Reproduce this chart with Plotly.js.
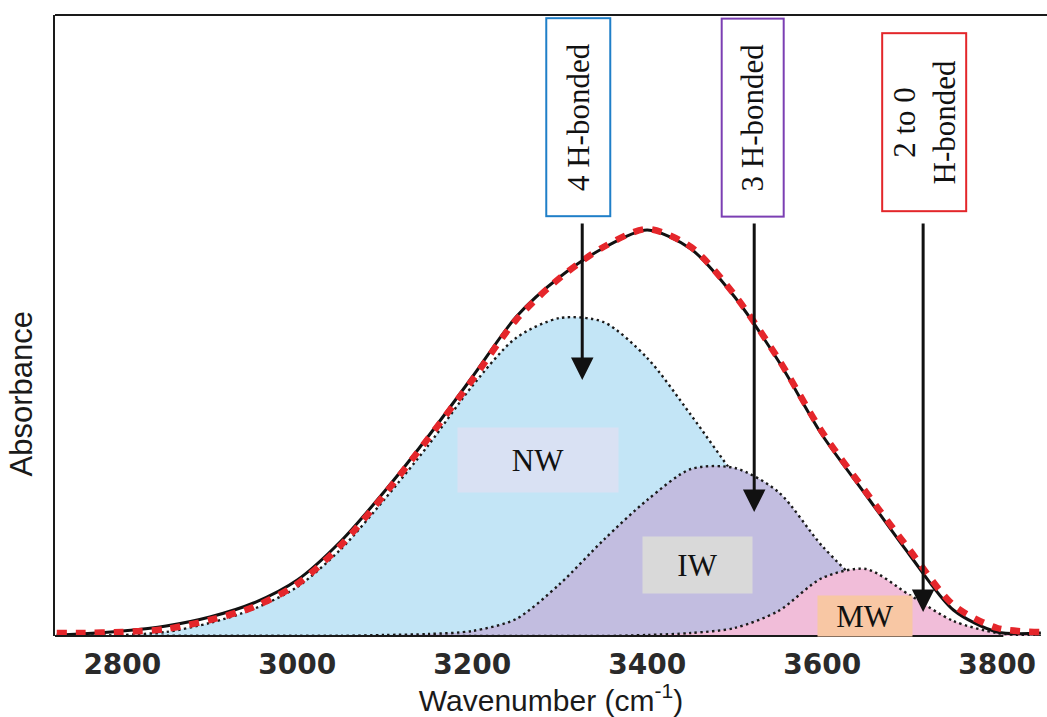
<!DOCTYPE html>
<html>
<head>
<meta charset="utf-8">
<script src="https://cdn.plot.ly/plotly-3.0.1.min.js"></script>
<style>
html,body{margin:0;padding:0;background:#fff;}
#chart{width:1047px;height:717px;}
</style>
</head>
<body>
<div id="chart"></div>
<script>
// Wavenumber grid (cm-1)
const wavenumber = [2725,2750,2800,2850,2900,2950,3000,3050,3100,3150,3200,3250,3300,3350,3400,3450,3500,3550,3600,3650,3700,3750,3800,3850];
// Measured total absorbance (black solid)
const measured = [0.001,0.002,0.005,0.010,0.019,0.033,0.056,0.095,0.145,0.200,0.259,0.319,0.359,0.388,0.406,0.387,0.339,0.275,0.201,0.141,0.081,0.026,0.004,0.003];
// Fitted sum (red dashed)
const fitted = [0.003,0.003,0.004,0.007,0.016,0.029,0.052,0.091,0.142,0.198,0.256,0.316,0.358,0.389,0.407,0.389,0.341,0.277,0.204,0.144,0.086,0.031,0.008,0.004];
// Components
const nw = [0.000,0.000,0.001,0.004,0.013,0.027,0.049,0.087,0.137,0.191,0.250,0.298,0.318,0.314,0.278,0.221,0.160,0.100,0.055,0.028,0.013,0.004,0.001,0.000];
const iw = [0.000,0.000,0.000,0.000,0.000,0.000,0.000,0.000,0.001,0.002,0.005,0.017,0.052,0.096,0.136,0.167,0.168,0.144,0.090,0.048,0.024,0.008,0.002,0.000];
const mw = [0.000,0.000,0.000,0.000,0.000,0.000,0.000,0.000,0.000,0.000,0.000,0.000,0.000,0.000,0.001,0.003,0.008,0.025,0.058,0.067,0.041,0.015,0.003,0.000];

const tickVals = [2800,3000,3200,3400,3600,3800];
const tickText = ['2800','3000','3200','3400','3600','3800'];

const compLabels = ['NW','IW','MW'];
const compLabelX = [3275.4, 3457.7, 3649.1];
const compLabelY = [0.176, 0.071, 0.020];

const bondLabels = ['4 H-bonded','3 H-bonded','2 to 0<br>H-bonded'];
const bondX = [3325.7, 3522.3, 3715.4];
const arrowTipY = [0.256, 0.124, 0.024];
const arrowTailY = 0.414;

const dotLine = {color:'#1a1a1a', width:2.4, dash:'2.4px,3.4px', shape:'spline', smoothing:0.8};

const traces = [
  {x:wavenumber, y:nw, type:'scatter', mode:'lines', fill:'tozeroy', fillcolor:'#c3e5f6', line:dotLine, hoverinfo:'skip', name:'NW'},
  {x:wavenumber, y:iw, type:'scatter', mode:'lines', fill:'tozeroy', fillcolor:'#c2bde0', line:dotLine, hoverinfo:'skip', name:'IW'},
  {x:wavenumber, y:mw, type:'scatter', mode:'lines', fill:'tozeroy', fillcolor:'#f1bdd9', line:dotLine, hoverinfo:'skip', name:'MW'},
  {x:wavenumber, y:measured, type:'scatter', mode:'lines', line:{color:'#111', width:3, shape:'spline', smoothing:0.8}, name:'Measured'},
  {x:wavenumber, y:fitted, type:'scatter', mode:'lines', line:{color:'#e5262b', width:6.5, dash:'10px,9px', shape:'spline', smoothing:0.8}, name:'Fit'}
];

const annotations = [];
const labelBg = ['#d9e1f3','#d9d9d9','#f8c7a4'];
const labelW = [160,109,94];
const labelH = [64,56,40];
compLabels.forEach((t,i)=>{
  annotations.push({xref:'x', yref:'y', x:compLabelX[i], y:compLabelY[i], xanchor:'center', yanchor:'middle', text:t, showarrow:false,
    font:{family:'Liberation Serif', size:31, color:'#111'}, bgcolor:labelBg[i], width:labelW[i], height:labelH[i], borderpad:0});
});
const boxColors = ['#1f7fc8','#7b3fb3','#e3262a'];
const boxY = [0.835, 0.835, 0.8277];
const boxW = [196, 196, 176];
const boxH = [62, 60, 82];
const boxX = [3321.7, 3521.1, 3716.6];
bondLabels.forEach((t,i)=>{
  annotations.push({xref:'x', yref:'paper', x:boxX[i], y:boxY[i], xanchor:'center', yanchor:'middle', text:t, textangle:-90, showarrow:false,
    font:{family:'Liberation Serif', size:31, color:'#111'}, bordercolor:boxColors[i], borderwidth:2, borderpad:0,
    bgcolor:'#fff', width:boxW[i], height:boxH[i]});
  annotations.push({xref:'x', yref:'y', axref:'x', ayref:'y', x:bondX[i], y:arrowTipY[i], ax:bondX[i], ay:arrowTailY,
    text:'', showarrow:true, arrowhead:2, arrowsize:1.5, arrowwidth:3, arrowcolor:'#111', standoff:0});
});
// y-axis title (placed as in the reference, below centre)
annotations.push({xref:'paper', yref:'paper', x:-0.0328, y:0.3897, xanchor:'center', yanchor:'middle', text:'Absorbance',
  textangle:-90, showarrow:false, font:{family:'Liberation Sans', size:31, color:'#1a1a1a'}});

const layout = {
  width:1047, height:717,
  margin:{l:55, r:0, t:15, b:81},
  paper_bgcolor:'#fff', plot_bgcolor:'#fff',
  showlegend:false,
  xaxis:{range:[2723,3857], tickvals:tickVals, ticktext:tickText, ticks:'', showgrid:false, zeroline:false,
    showline:false, ticklabelstandoff:9,
    tickfont:{family:'DejaVu Sans', size:28, weight:'bold', color:'#2a2a2a'},
    title:{text:'Wavenumber (cm<sup>-1</sup>)', font:{family:'Liberation Sans', size:30, color:'#1a1a1a'}, standoff:7},
    automargin:false},
  yaxis:{range:[0,0.621], showticklabels:false, ticks:'', showgrid:false, zeroline:false, showline:true,
    linecolor:'#1a1a1a', linewidth:2, automargin:false},
  shapes:[
    {type:'line', xref:'paper', yref:'paper', x0:0, x1:1, y0:1, y1:1, line:{color:'#1a1a1a', width:2}},
    {type:'line', xref:'paper', yref:'paper', x0:0, x1:0.956, y0:0, y1:0, line:{color:'#1a1a1a', width:2}}
  ],
  annotations:annotations
};

Plotly.newPlot('chart', traces, layout, {staticPlot:true, displayModeBar:false});
</script>
</body>
</html>
